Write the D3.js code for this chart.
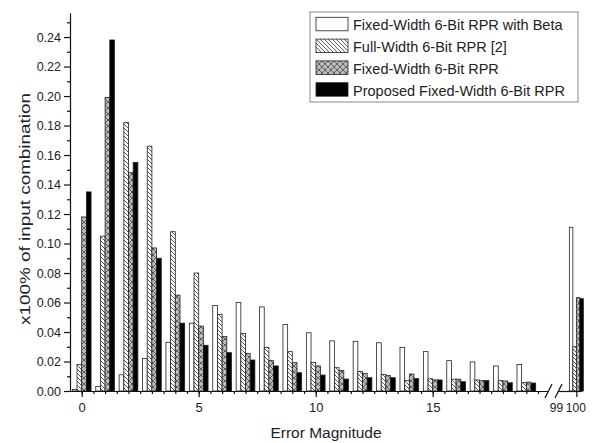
<!DOCTYPE html>
<html>
<head>
<meta charset="utf-8">
<script src="https://cdn.jsdelivr.net/npm/d3@7"></script>
<style>
  body { margin: 0; background: #fff; }
  svg { display: block; font-family: "Liberation Sans", Arial, sans-serif; }
</style>
</head>
<body>
<svg id="chart"></svg>
<script>
var width = 592;
var height = 443;

// error magnitudes (0..19, then 100 after the axis break)
var errors = [0, 1, 2, 3, 4, 5, 6, 7, 8, 9, 10, 11, 12, 13, 14, 15, 16, 17, 18, 19, 100];

var betaFixed = [0.001, 0.003, 0.011, 0.022, 0.033, 0.046, 0.058, 0.060, 0.057, 0.045,
  0.0395, 0.034, 0.0337, 0.0327, 0.0296, 0.0267, 0.0206, 0.0197, 0.017, 0.018, 0.111];
var fullWidth = [0.018, 0.105, 0.182, 0.166, 0.108, 0.080, 0.052, 0.039, 0.0296, 0.0267,
  0.0194, 0.0158, 0.0133, 0.0113, 0.0072, 0.0083, 0.008, 0.0075, 0.007, 0.0056, 0.030];
var fixedWidth = [0.118, 0.199, 0.148, 0.097, 0.065, 0.044, 0.037, 0.0255, 0.0206, 0.0192,
  0.017, 0.0138, 0.012, 0.0104, 0.0115, 0.0075, 0.008, 0.007, 0.0068, 0.006, 0.0633];
var proposed = [0.135, 0.238, 0.155, 0.090, 0.046, 0.031, 0.026, 0.021, 0.017, 0.0124,
  0.0108, 0.0081, 0.009, 0.009, 0.0084, 0.0075, 0.0063, 0.007, 0.0056, 0.0054, 0.0626];

var legendLabels = ["Fixed-Width 6-Bit RPR with Beta", "Full-Width 6-Bit RPR [2]",
  "Fixed-Width 6-Bit RPR", "Proposed Fixed-Width 6-Bit RPR"];
var fills = ["#fff", "url(#hatch)", "url(#cross)", "#000"];
var seriesList = [betaFixed, fullWidth, fixedWidth, proposed];

var yTicks = [0, 0.02, 0.04, 0.06, 0.08, 0.10, 0.12, 0.14, 0.16, 0.18, 0.20, 0.22, 0.24];
var xTicks = [0, 5, 10, 15];
var xTicksBreak = [99, 100];

var svg = d3.select("#chart")
    .attr("width", width)
    .attr("height", height);

var defs = svg.append("defs");
var hatch = defs.append("pattern")
    .attr("id", "hatch")
    .attr("patternUnits", "userSpaceOnUse")
    .attr("width", 4).attr("height", 4);
hatch.append("rect").attr("width", 4).attr("height", 4).attr("fill", "#fff");
hatch.append("path")
    .attr("d", "M-1,-1 L5,5 M-1,3 L1,5 M3,-1 L5,1")
    .attr("stroke", "#555").attr("stroke-width", 1);

var cross = defs.append("pattern")
    .attr("id", "cross")
    .attr("patternUnits", "userSpaceOnUse")
    .attr("width", 6).attr("height", 6);
cross.append("rect").attr("width", 6).attr("height", 6).attr("fill", "#bdbdbd");
cross.append("path")
    .attr("d", "M0,0 L6,6 M6,0 L0,6")
    .attr("stroke", "#444").attr("stroke-width", 0.8);

var yScale = d3.scaleLinear()
  .domain([0, 0.2563])
  .range([391, 13]);

// two x segments around the break
var xScale1 = d3.scaleLinear()
  .domain([-0.5, 19.9])
  .range([70, 547.4]);
var xScale2 = d3.scaleLinear()
  .domain([98.95, 100.3])
  .range([558, 581.6]);

function xPos(v) { return v < 50 ? xScale1(v) : xScale2(v); }
function unitOf(v) {
  var s = v < 50 ? xScale1 : xScale2;
  return s(1) - s(0);
}

// bars
seriesList.forEach(function(series, k) {
  svg.append("g")
    .selectAll("rect")
    .data(errors)
    .enter()
    .append("rect")
      .attr("x", (d) => xPos(d) + unitOf(d) * (0.2 * k - 0.4))
      .attr("y", (d, i) => yScale(series[i]))
      .attr("width", (d) => unitOf(d) * 0.2)
      .attr("height", (d, i) => yScale(0) - yScale(series[i]))
      .attr("fill", fills[k])
      .attr("stroke", "#222")
      .attr("stroke-width", 0.8);
});

// y axis
var yAxis = svg.append("g")
    .attr("transform", "translate(70,0)")
    .call(d3.axisLeft(yScale).tickValues(yTicks).tickSize(6).tickSizeOuter(0)
      .tickFormat(d3.format(".2f")));
svg.append("g")
    .attr("transform", "translate(70,0)")
    .call(d3.axisLeft(yScale).tickValues(d3.range(0.01, 0.26, 0.02)).tickSize(3)
      .tickFormat(""))
    .select(".domain").remove();

// x axis, first segment
var xAxis1 = svg.append("g")
    .attr("transform", "translate(0,391)")
    .call(d3.axisBottom(xScale1).tickValues(xTicks).tickSize(6).tickSizeOuter(0)
      .tickFormat(d3.format("d")));
svg.append("g")
    .attr("transform", "translate(0,391)")
    .call(d3.axisBottom(xScale1).tickValues(d3.range(0, 20, 0.5)).tickSize(3)
      .tickFormat(""))
    .select(".domain").remove();

// x axis, after the break
var xAxis2 = svg.append("g")
    .attr("transform", "translate(0,391)")
    .call(d3.axisBottom(xScale2).tickValues(xTicksBreak).tickSize(6).tickSizeOuter(0)
      .tickFormat(d3.format("d")));
xAxis2.selectAll(".tick").filter(d => d == 99).select("line").remove();

[yAxis, xAxis1, xAxis2].forEach(function(g) {
  g.attr("font-family", null).attr("font-size", null);
  g.selectAll(".domain").attr("stroke", "#111").attr("stroke-width", 1.2);
  g.selectAll("text").attr("fill", "#222");
});
svg.selectAll("g.tick line").attr("stroke", "#111").attr("stroke-width", 1.2);
yAxis.selectAll("text").style("font-size", "12.5px").attr("x", -9);
xAxis1.selectAll("text").style("font-size", "13px").attr("y", 12);
xAxis2.selectAll("text").style("font-size", "12px").attr("y", 12);
xAxis2.selectAll(".tick").filter(d => d == 99).select("text").attr("dx", -3);
xAxis2.selectAll(".tick").filter(d => d == 100).select("text").attr("dx", -1);

// break marks
svg.append("g")
    .selectAll("line")
    .data([545, 555])
    .enter()
    .append("line")
      .attr("x1", d => d).attr("y1", 398)
      .attr("x2", d => d + 7).attr("y2", 384)
      .attr("stroke", "#111").attr("stroke-width", 1.2);

// axis titles
svg.append("text")
    .attr("x", 326).attr("y", 438)
    .attr("text-anchor", "middle")
    .attr("fill", "#222")
    .style("font-size", "15.5px")
    .text("Error Magnitude");

svg.append("text")
    .attr("transform", "translate(30,209) rotate(-90)")
    .attr("text-anchor", "middle")
    .attr("fill", "#222")
    .style("font-size", "15.5px")
    .attr("textLength", 232)
    .attr("lengthAdjust", "spacingAndGlyphs")
    .text("x100% of input combination");

// legend
var legend = svg.append("g");
legend.append("rect")
    .attr("x", 310).attr("y", 12)
    .attr("width", 268).attr("height", 90)
    .attr("fill", "#fff")
    .attr("stroke", "#888").attr("stroke-width", 1);

var rows = legend.selectAll("g.row")
  .data(legendLabels)
  .enter()
  .append("g")
    .attr("class", "row")
    .attr("transform", (d, i) => "translate(316," + (17.3 + i * 21.8) + ")");
rows.append("rect")
    .attr("width", 32).attr("height", 13.5)
    .attr("fill", (d, i) => fills[i])
    .attr("stroke", "#222").attr("stroke-width", 0.8);
rows.append("text")
    .attr("x", 37).attr("y", 13)
    .attr("fill", "#222")
    .style("font-size", "14.5px")
    .text(d => d);
</script>
</body>
</html>
